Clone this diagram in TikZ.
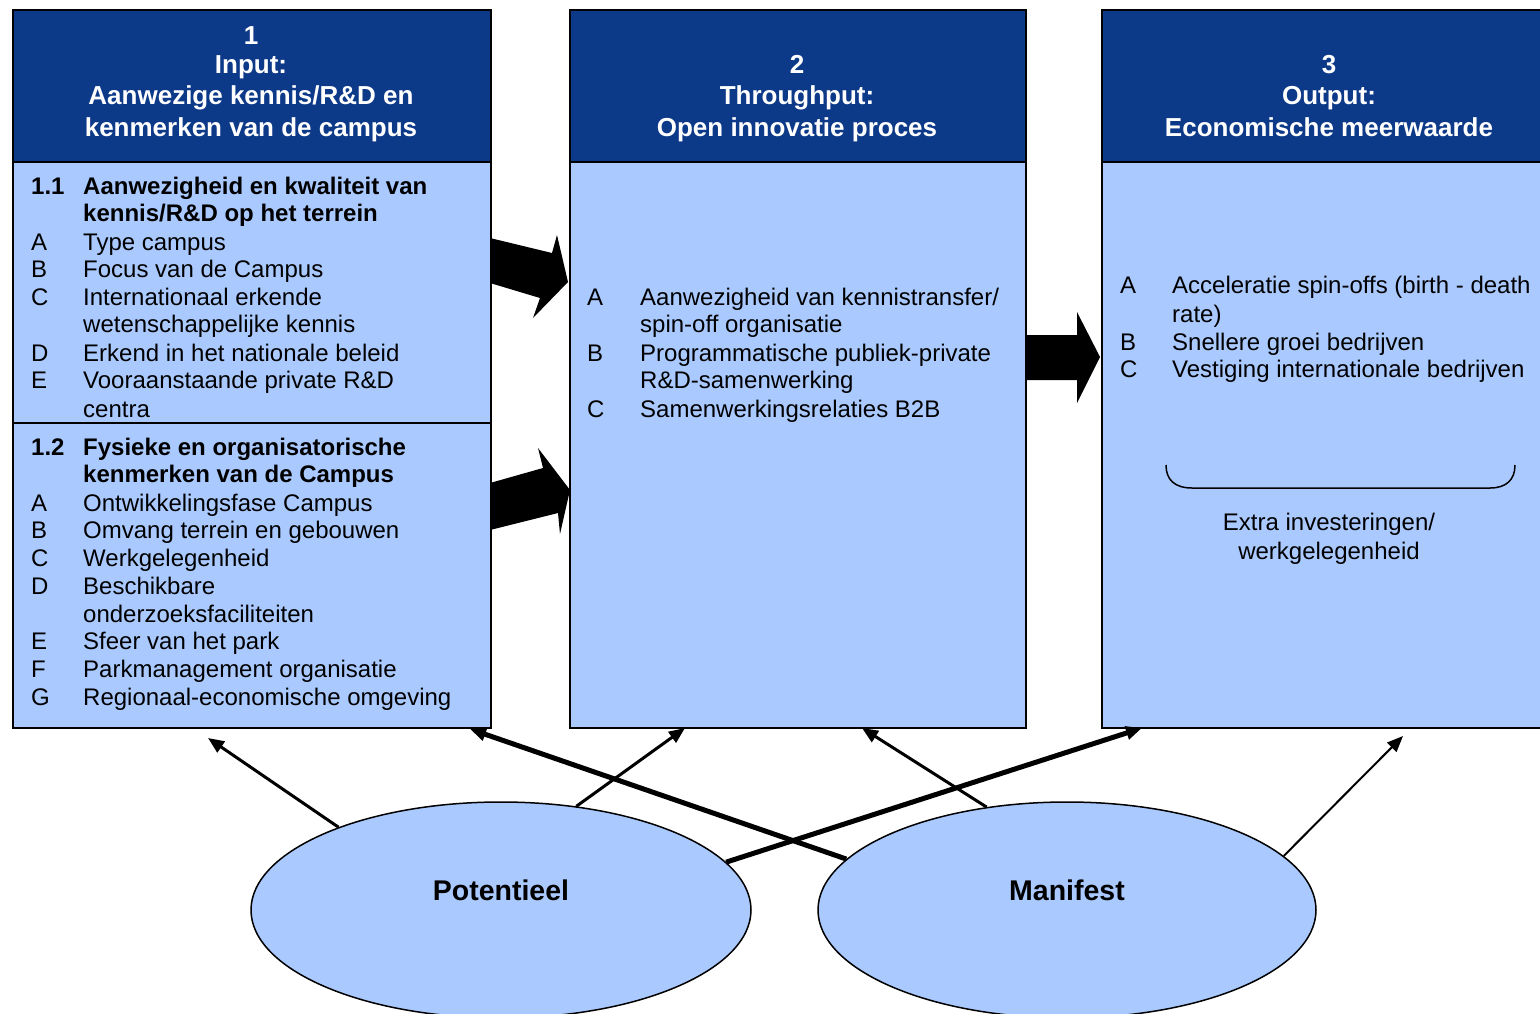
\documentclass[tikz,border=0pt]{standalone}
\usepackage{fontspec}
\setmainfont{Liberation Sans}
\usetikzlibrary{shapes.geometric,arrows.meta}
\definecolor{hdr}{RGB}{13,57,137}
\definecolor{lb}{RGB}{170,202,255}
\begin{document}
\begin{tikzpicture}[x=1pt,y=-1pt,
  hdrbox/.style={draw=black, line width=1.5pt, fill=hdr, inner sep=0pt, anchor=north west},
  bodybox/.style={draw=black, line width=1.5pt, fill=lb, inner sep=0pt, anchor=north west},
  htxt/.style={text=white, font=\fontsize{26}{30}\selectfont\bfseries, inner sep=0pt, anchor=base},
  txt/.style={font=\fontsize{24}{28}\selectfont, inner sep=0pt, anchor=base west},
  btxt/.style={font=\fontsize{24}{28}\selectfont\bfseries, inner sep=0pt, anchor=base west},
  ctxt/.style={font=\fontsize{24}{28}\selectfont, inner sep=0pt, anchor=base},
  oval/.style={ellipse, draw=black, line width=1.5pt, fill=lb, minimum width=500pt, minimum height=216pt, inner sep=0pt},
  ovaltxt/.style={font=\fontsize{28.5}{32}\selectfont\bfseries, inner sep=0pt, anchor=base},
  conn/.style={-{Triangle[length=16pt,width=13pt]}, line width=3pt},
  blk/.style={fill=black}]
\useasboundingbox (0,0) rectangle (1540,1013);
\clip (0,0) rectangle (1540,1013);

% ---- boxes
\node[hdrbox, minimum width=478pt, minimum height=152pt] (h1) at (12,9) {};
\node[bodybox, minimum width=478pt, minimum height=261pt] (b1a) at (12,161) {};
\node[bodybox, minimum width=478pt, minimum height=305pt] (b1b) at (12,422) {};
\node[hdrbox, minimum width=456pt, minimum height=152pt] (h2) at (569,9) {};
\node[bodybox, minimum width=456pt, minimum height=566pt] (b2) at (569,161) {};
\node[hdrbox, minimum width=456pt, minimum height=152pt] (h3) at (1101,9) {};
\node[bodybox, minimum width=456pt, minimum height=566pt] (b3) at (1101,161) {};

% ---- header texts
\node[htxt] (h1a) at (251,44.5) {1};
\node[htxt] (h1b) at (251,73.5) {Input:};
\node[htxt] (h1c) at (251,104.5) {Aanwezige kennis/R\&D en};
\node[htxt] (h1d) at (251,136.5) {kenmerken van de campus};
\node[htxt] (h2a) at (797,73.5) {2};
\node[htxt] (h2b) at (797,104.5) {Throughput:};
\node[htxt] (h2c) at (797,136.5) {Open innovatie proces};
\node[htxt] (h3a) at (1329,73.5) {3};
\node[htxt] (h3b) at (1329,104.5) {Output:};
\node[htxt] (h3c) at (1329,136.5) {Economische meerwaarde};

% ---- box 1, section 1.1
\node[btxt] (s11n) at (31,194) {1.1};
\node[btxt] (s11a) at (83,194) {Aanwezigheid en kwaliteit van};
\node[btxt] (s11b) at (83,221) {kennis/R\&D op het terrein};
\foreach \yy/\ll/\tx [count=\i] in {250/A/{Type campus}, 277/B/{Focus van de Campus},
  305/C/{Internationaal erkende}, 332/{}/{wetenschappelijke kennis},
  361/D/{Erkend in het nationale beleid}, 388/E/{Vooraanstaande private R\&D},
  417/{}/{centra}}{
  \node[txt] (pa\i) at (31,\yy) {\ll};
  \node[txt] (pt\i) at (83,\yy) {\tx};
}
% ---- box 1, section 1.2
\node[btxt] (s12n) at (31,455) {1.2};
\node[btxt] (s12a) at (83,455) {Fysieke en organisatorische};
\node[btxt] (s12b) at (83,482) {kenmerken van de Campus};
\foreach \yy/\ll/\tx [count=\i] in {511/A/{Ontwikkelingsfase Campus}, 538/B/{Omvang terrein en gebouwen},
  566/C/{Werkgelegenheid}, 594/D/{Beschikbare}, 622/{}/{onderzoeksfaciliteiten},
  649/E/{Sfeer van het park}, 677/F/{Parkmanagement organisatie},
  705/G/{Regionaal-economische omgeving}}{
  \node[txt] (qa\i) at (31,\yy) {\ll};
  \node[txt] (qt\i) at (83,\yy) {\tx};
}

% ---- box 2
\foreach \yy/\ll/\tx [count=\i] in {305/A/{Aanwezigheid van kennistransfer/}, 332/{}/{spin-off organisatie},
  361/B/{Programmatische publiek-private}, 388/{}/{R\&D-samenwerking},
  417/C/{Samenwerkingsrelaties B2B}}{
  \node[txt] (ra\i) at (587,\yy) {\ll};
  \node[txt] (rt\i) at (640,\yy) {\tx};
}

% ---- box 3
\foreach \yy/\ll/\tx [count=\i] in {293/A/{Acceleratie spin-offs (birth - death}, 322/{}/{rate)},
  350/B/{Snellere groei bedrijven}, 377/C/{Vestiging internationale bedrijven}}{
  \node[txt] (sa\i) at (1120,\yy) {\ll};
  \node[txt] (st\i) at (1172,\yy) {\tx};
}
\draw[line width=1.5pt] (1166,465) .. controls (1166,480) and (1175,488) .. (1192,488)
  -- (1490,488) .. controls (1506,488) and (1515,480) .. (1515,465);
\node[ctxt] (ex1) at (1329,530) {Extra investeringen/};
\node[ctxt] (ex2) at (1329,559) {werkgelegenheid};

% ---- block arrows
\fill[blk] (490,238) -- (552,253) -- (557,235) -- (568,282) -- (533,318) -- (540,298) -- (490,283) -- cycle;
\fill[blk] (490,483) -- (543,468) -- (538,448) -- (570,490) -- (560,534) -- (558,513) -- (490,530) -- cycle;
\fill[blk] (1025,335) -- (1077,335) -- (1077,312) -- (1100,357) -- (1077,403) -- (1077,380) -- (1025,380) -- cycle;

% ---- ellipses
\node[oval] (pot) at (501,910) {};
\node[ovaltxt] (pottx) at (501,900) {Potentieel};
\node[oval, minimum width=498pt] (man) at (1067,910) {};
\node[ovaltxt] (mantx) at (1067,900) {Manifest};

% ---- connectors
\coordinate (t1) at (208,738);
\coordinate (t2) at (685,728);
\coordinate (t3) at (1142,728);
\coordinate (t4) at (470,729);
\coordinate (t5) at (862,728);
\coordinate (t6) at (1403,736);
\draw[conn] (pot.153) -- (t1);
\draw[conn] (pot.54) -- (t2);
\draw[conn, line width=5pt] (pot.12) -- (t3);
\draw[conn, line width=5pt] (man.167) -- (t4);
\draw[conn] (man.128) -- (t5);
\draw[conn, line width=2pt] (man.14) -- (t6);
\end{tikzpicture}
\end{document}
